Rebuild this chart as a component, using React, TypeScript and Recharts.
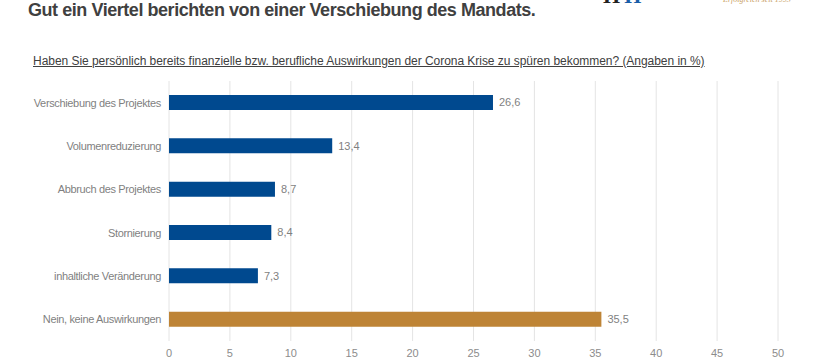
import React from "react";
import { BarChart, Bar, XAxis, YAxis, CartesianGrid, LabelList, Cell } from "recharts";

const categories = [
  "Verschiebung des Projektes",
  "Volumenreduzierung",
  "Abbruch des Projektes",
  "Stornierung",
  "inhaltliche Veränderung",
  "Nein, keine Auswirkungen",
];
const values = [26.6, 13.4, 8.7, 8.4, 7.3, 35.5];
const xTicks = [0, 5, 10, 15, 20, 25, 30, 35, 40, 45, 50];

const title = "Gut ein Viertel berichten von einer Verschiebung des Mandats.";
const subtitle =
  "Haben Sie persönlich bereits finanzielle bzw. berufliche Auswirkungen der Corona Krise zu spüren bekommen? (Angaben in %)";

const BLUE = "#00498F";
const GOLD = "#BE8436";

const data = categories.map((c, i) => ({ name: c, value: values[i] }));

const font = "'Liberation Sans', Arial, sans-serif";

const CategoryTick = (props: any) => {
  const { x, y, payload } = props;
  return (
    <text
      x={x}
      y={y}
      dy="0.355em"
      textAnchor="end"
      fontSize={11}
      fill="#7f7f7f"
      fontFamily={font}
      letterSpacing={-0.35}
    >
      {payload.value}
    </text>
  );
};

export default function App() {
  return (
    <div
      style={{
        position: "fixed",
        left: 0,
        top: 0,
        width: 820,
        height: 360,
        background: "#fff",
        overflow: "hidden",
        fontFamily: font,
      }}
    >
      <div
        style={{
          position: "absolute",
          left: 28,
          top: 0,
          fontSize: 18,
          fontWeight: "bold",
          color: "#404040",
          whiteSpace: "nowrap",
          lineHeight: "20px",
          letterSpacing: -0.45,
        }}
      >
        {title}
      </div>
      <div
        style={{
          position: "absolute",
          left: 603,
          top: -15,
          fontSize: 22,
          fontWeight: "bold",
          fontFamily: "'Liberation Serif', serif",
          whiteSpace: "nowrap",
          lineHeight: "22px",
        }}
      >
        <span style={{ color: "#222" }}>H</span>
        <span style={{ color: "#1a5ea8", marginLeft: 4 }}>H</span>
      </div>
      <div
        style={{
          position: "absolute",
          left: 723,
          top: -5,
          fontSize: 8,
          fontStyle: "italic",
          fontFamily: "'Liberation Serif', serif",
          color: "#C9A063",
          whiteSpace: "nowrap",
          lineHeight: "10px",
        }}
      >
        Erfolgreich seit 1993
      </div>
      <div
        style={{
          position: "absolute",
          left: 33,
          top: 53,
          fontSize: 12,
          color: "#404040",
          textDecoration: "underline",
          whiteSpace: "nowrap",
          lineHeight: "16px",
          letterSpacing: -0.04,
        }}
      >
        {subtitle}
      </div>
      <div style={{ position: "absolute", left: 0, top: 0 }}>
        <BarChart
          width={820}
          height={360}
          data={data}
          layout="vertical"
          margin={{ top: 81, right: 42, bottom: 0, left: 9 }}
        >
          <CartesianGrid horizontal={false} stroke="#e4e4e4" />
          <XAxis
            type="number"
            domain={[0, 50]}
            ticks={xTicks}
            height={19}
            axisLine={false}
            tickLine={false}
            tick={{ fontSize: 11, fill: "#8c8c8c", fontFamily: font }}
          />
          <YAxis
            type="category"
            dataKey="name"
            width={160}
            axisLine={false}
            tickLine={false}
            tick={<CategoryTick />}
          />
          <Bar dataKey="value" barSize={15} isAnimationActive={false}>
            {data.map((d, i) => (
              <Cell key={i} fill={i === data.length - 1 ? GOLD : BLUE} />
            ))}
            <LabelList
              dataKey="value"
              position="right"
              offset={6}
              formatter={(v: number) => String(v).replace(".", ",")}
              style={{ fontSize: 11, fill: "#7f7f7f", fontFamily: font }}
            />
          </Bar>
        </BarChart>
      </div>
    </div>
  );
}
